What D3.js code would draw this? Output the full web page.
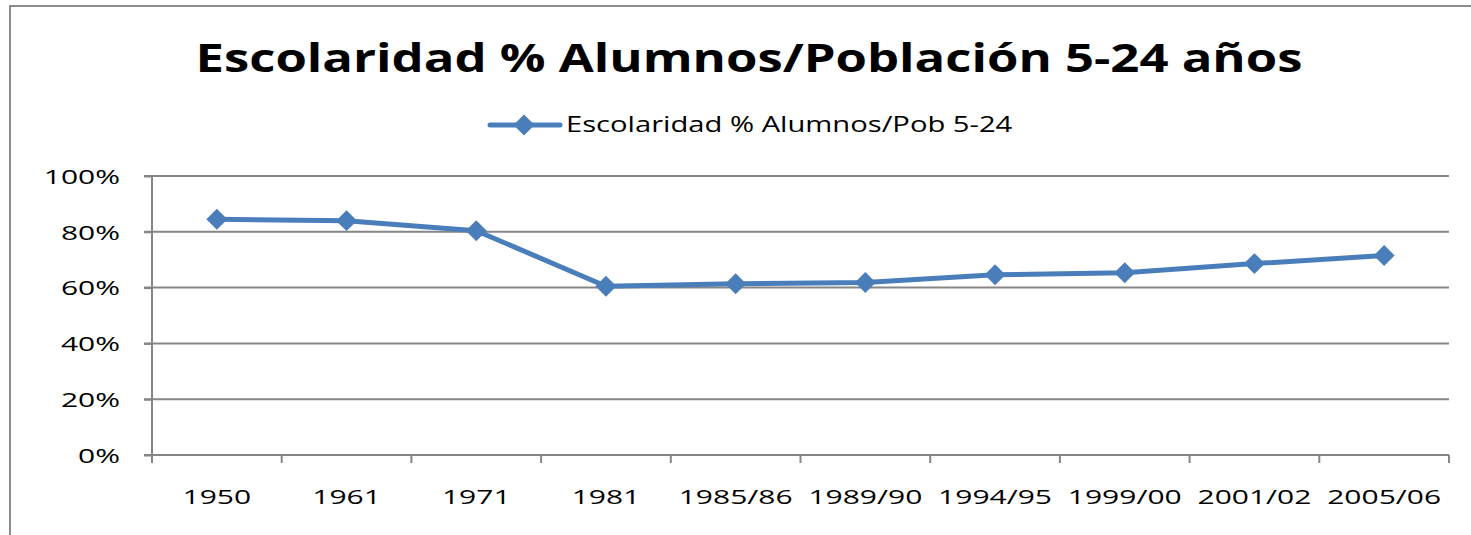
<!DOCTYPE html>
<html><head><meta charset="utf-8">
<script src="https://cdn.jsdelivr.net/npm/d3@7"></script>
<style>html,body{margin:0;padding:0;background:#fff;}svg{display:block;}</style>
</head><body>
<script>
const categories = ["1950","1961","1971","1981","1985/86","1989/90","1994/95","1999/00","2001/02","2005/06"];
const values = [84.5, 84.0, 80.4, 60.5, 61.4, 61.8, 64.6, 65.3, 68.6, 71.5];
const yTicks = [0, 20, 40, 60, 80, 100];
const title = "Escolaridad % Alumnos/Población 5-24 años";
const seriesName = "Escolaridad % Alumnos/Pob 5-24";

const W = 1471, H = 535;
const m = {left:152, right:1449, top:176, bottom:455};
const font = "'Open Sans', 'DejaVu Sans', sans-serif";
const blue = "#4A7EBB", grid = "#868686";
const sxSmall = 1.5, sxTitle = 1.27, sxLegend = 1.39;

const svg = d3.select("body").append("svg").attr("width", W).attr("height", H);
svg.append("rect").attr("x",10).attr("y",6).attr("width",1475).attr("height",560)
  .attr("fill","#fff").attr("stroke","#8c8c8c").attr("stroke-width",2);

const x = d3.scaleBand().domain(categories).range([m.left, m.right]);
const y = d3.scaleLinear().domain([0,100]).range([m.bottom, m.top]);

// gridlines
svg.append("g").selectAll("line").data(yTicks.filter(d=>d>0)).join("line")
  .attr("x1", m.left-8).attr("x2", m.right).attr("y1", d=>y(d)).attr("y2", d=>y(d))
  .attr("stroke", grid).attr("stroke-width", 2);

// y axis
const yAxis = svg.append("g").attr("transform", `translate(${m.left},0)`)
  .call(d3.axisLeft(y).tickValues(yTicks).tickFormat(d=>d+"%").tickSize(8));
yAxis.select(".domain").attr("stroke", grid).attr("stroke-width", 2).attr("d", `M0,${m.top}V${m.bottom+8}`);
yAxis.selectAll(".tick line").attr("stroke", grid).attr("stroke-width", 2);
yAxis.selectAll("text").attr("font-family", font).attr("font-size", 20).attr("fill", "#000")
  .attr("x", -32/sxSmall).attr("dy","0.36em").attr("transform", `scale(${sxSmall},1)`);

// x axis
const xAxis = svg.append("g").attr("transform", `translate(0,${m.bottom})`)
  .call(d3.axisBottom(x).tickSize(0).tickPadding(35));
xAxis.select(".domain").remove();
xAxis.selectAll("text").attr("font-family", font).attr("font-size", 20).attr("fill", "#000")
  .attr("transform", `scale(${sxSmall},1)`);
svg.append("line").attr("x1", m.left-8).attr("x2", m.right).attr("y1", m.bottom).attr("y2", m.bottom)
  .attr("stroke", grid).attr("stroke-width", 2);
const bounds = categories.map(c=>x(c)).concat([m.right]);
svg.append("g").selectAll("line").data(bounds).join("line")
  .attr("x1", d=>d).attr("x2", d=>d).attr("y1", m.bottom).attr("y2", m.bottom+8)
  .attr("stroke", grid).attr("stroke-width", 2);

// line
const cx = c => x(c) + x.bandwidth()/2;
const line = d3.line().x((d,i)=>cx(categories[i])).y(d=>y(d));
svg.append("path").datum(values).attr("d", line).attr("fill","none")
  .attr("stroke", blue).attr("stroke-width", 5).attr("stroke-linejoin","round");
const diamond = d3.symbol().type(d3.symbolDiamond2).size(280);
svg.append("g").selectAll("path").data(values).join("path")
  .attr("d", diamond).attr("transform", (d,i)=>`translate(${cx(categories[i])},${y(d)})`)
  .attr("fill", blue);

// title
svg.append("g").attr("transform", "translate(749,72)")
  .append("text").attr("text-anchor","middle").attr("transform", `scale(${sxTitle},1)`)
  .attr("font-family", font).attr("font-weight", "bold").attr("font-size", 40).attr("fill","#000")
  .text(title);

// legend
svg.append("line").attr("x1", 490).attr("x2", 560).attr("y1", 125).attr("y2", 125)
  .attr("stroke", blue).attr("stroke-width", 5).attr("stroke-linecap","round");
svg.append("path").attr("d", diamond).attr("transform","translate(524,125)").attr("fill", blue);
svg.append("g").attr("transform", "translate(566,132)")
  .append("text").attr("transform", `scale(${sxLegend},1)`).attr("font-family", font).attr("font-size", 21)
  .attr("fill","#000").text(seriesName);
</script>
</body></html>
